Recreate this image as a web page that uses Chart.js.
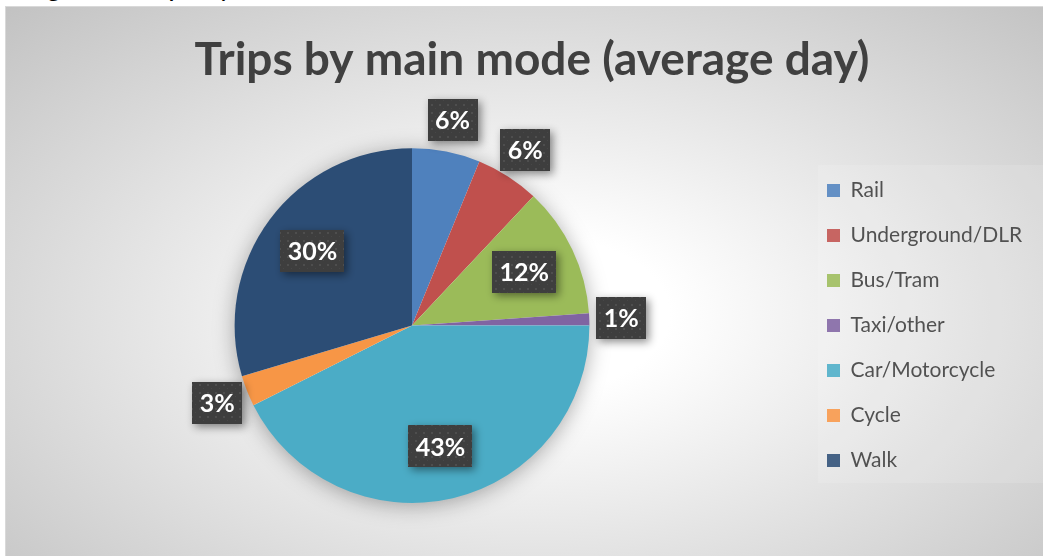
<!DOCTYPE html>
<html lang="en">
  <head>
    <meta charset="UTF-8" />
    <title>Trips by main mode</title>
    <style>
      * {
        margin: 0;
        padding: 0;
        box-sizing: border-box;
      }
      body {
        width: 1043px;
        height: 556px;
        overflow: hidden;
        background: #fff;
        position: relative;
        font-family: Lato, sans-serif;
      }
      .caption {
        position: absolute;
        left: 24px;
        top: -29px;
        font-size: 28px;
        line-height: 28px;
        color: #000;
        white-space: nowrap;
      }
      .chartBox {
        position: absolute;
        left: 5px;
        top: 6px;
        width: 1039px;
        height: 551px;
        border: 1px solid #d9d9d9;
        background: radial-gradient(
          ellipse farthest-corner at 51% 56%,
          #ffffff 0%,
          #ffffff 18%,
          #c2c2c2 100%
        );
      }
      .chartBox canvas {
        position: absolute;
        left: 0;
        top: 0;
      }
    </style>
  </head>
  <body>
    <div class="caption">Figure 3: Trips by main mode, 2016/17</div>
    <div class="chartBox">
      <canvas id="myChart" width="1037" height="549"></canvas>
    </div>

    <script src="https://cdn.jsdelivr.net/npm/chart.js"></script>

    <script>
      const modes = [
        "Rail",
        "Underground/DLR",
        "Bus/Tram",
        "Taxi/other",
        "Car/Motorcycle",
        "Cycle",
        "Walk",
      ];
      const shares = [6.2, 5.8, 11.9, 1.1, 42.6, 2.8, 29.6];
      const colors = [
        "#4f81bd",
        "#c0504d",
        "#9bbb59",
        "#8064a2",
        "#4bacc6",
        "#f79646",
        "#2c4d75",
      ];

      // dotted dark fill used by the data label boxes
      const tile = document.createElement("canvas");
      tile.width = 8;
      tile.height = 8;
      const tctx = tile.getContext("2d");
      tctx.fillStyle = "#3e3e3e";
      tctx.fillRect(0, 0, 8, 8);
      tctx.fillStyle = "#4e4e4e";
      tctx.fillRect(1, 1, 2, 2);
      tctx.fillStyle = "#474747";
      tctx.fillRect(5, 5, 1, 1);

      const pieShadow = {
        id: "pieShadow",
        beforeDatasetsDraw(chart) {
          const arc = chart.getDatasetMeta(0).data[0];
          if (!arc) return;
          const { ctx } = chart;
          ctx.save();
          ctx.shadowColor = "rgba(0,0,0,0.35)";
          ctx.shadowBlur = 22;
          ctx.shadowOffsetY = 3;
          ctx.fillStyle = "#ffffff";
          ctx.beginPath();
          ctx.arc(arc.x, arc.y, arc.outerRadius - 1, 0, Math.PI * 2);
          ctx.fill();
          ctx.restore();
        },
      };

      const legendPanel = {
        id: "legendPanel",
        beforeDatasetsDraw(chart) {
          const lg = chart.legend;
          const { ctx } = chart;
          ctx.save();
          ctx.fillStyle = "rgba(255,255,255,0.12)";
          ctx.fillRect(lg.left + 15, 158, lg.width, 318);
          ctx.restore();
        },
      };

      const sliceLabels = {
        id: "sliceLabels",
        afterDatasetsDraw(chart) {
          const { ctx } = chart;
          const meta = chart.getDatasetMeta(0);
          const pattern = ctx.createPattern(tile, "repeat");
          ctx.save();
          ctx.font = "bold 25px Lato";
          ctx.textAlign = "center";
          ctx.textBaseline = "middle";
          meta.data.forEach((arc, i) => {
            const value = shares[i];
            const mid = (arc.startAngle + arc.endAngle) / 2;
            const r = value >= 10 ? arc.outerRadius * 0.7 : arc.outerRadius * 1.18;
            const cx = arc.x + Math.cos(mid) * r;
            const cy = arc.y + Math.sin(mid) * r;
            const text = Math.round(value) + "%";
            const w = ctx.measureText(text).width + 15;
            const h = 42;
            ctx.save();
            ctx.shadowColor = "rgba(0,0,0,0.45)";
            ctx.shadowBlur = 8;
            ctx.shadowOffsetX = 3;
            ctx.shadowOffsetY = 3;
            ctx.fillStyle = pattern;
            ctx.fillRect(Math.round(cx - w / 2), Math.round(cy - h / 2), Math.round(w), h);
            ctx.restore();
            ctx.fillStyle = "#ffffff";
            ctx.fillText(text, cx, cy + 1);
          });
          ctx.restore();
        },
      };

      const legendWidth = {
        id: "legendWidth",
        afterInit(chart) {
          const lg = chart.legend;
          const fit = lg.fit;
          lg.fit = function () {
            fit.call(this);
            this.width = 240;
          };
        },
      };

      const config = {
        type: "pie",
        data: {
          labels: modes,
          datasets: [
            {
              data: shares,
              backgroundColor: colors,
              borderWidth: 0,
            },
          ],
        },
        options: {
          responsive: false,
          animation: false,
          events: [],
          layout: {
            padding: { left: 15, right: 0, top: 0, bottom: 53 },
          },
          plugins: {
            title: {
              display: true,
              text: "Trips by main mode (average day)",
              color: "#404040",
              font: { family: "Lato", size: 46, weight: "bold", lineHeight: 1.2 },
              padding: { top: 26, bottom: 60 },
            },
            legend: {
              position: "right",
              fullSize: false,
              labels: {
                boxWidth: 13,
                boxHeight: 13,
                padding: 24,
                color: "#3a3a3a",
                font: { family: "Lato", size: 21 },
              },
            },
            tooltip: { enabled: false },
          },
        },
        plugins: [legendWidth, pieShadow, legendPanel, sliceLabels],
      };

      const myChart = new Chart(document.getElementById("myChart"), config);
    </script>
  </body>
</html>
